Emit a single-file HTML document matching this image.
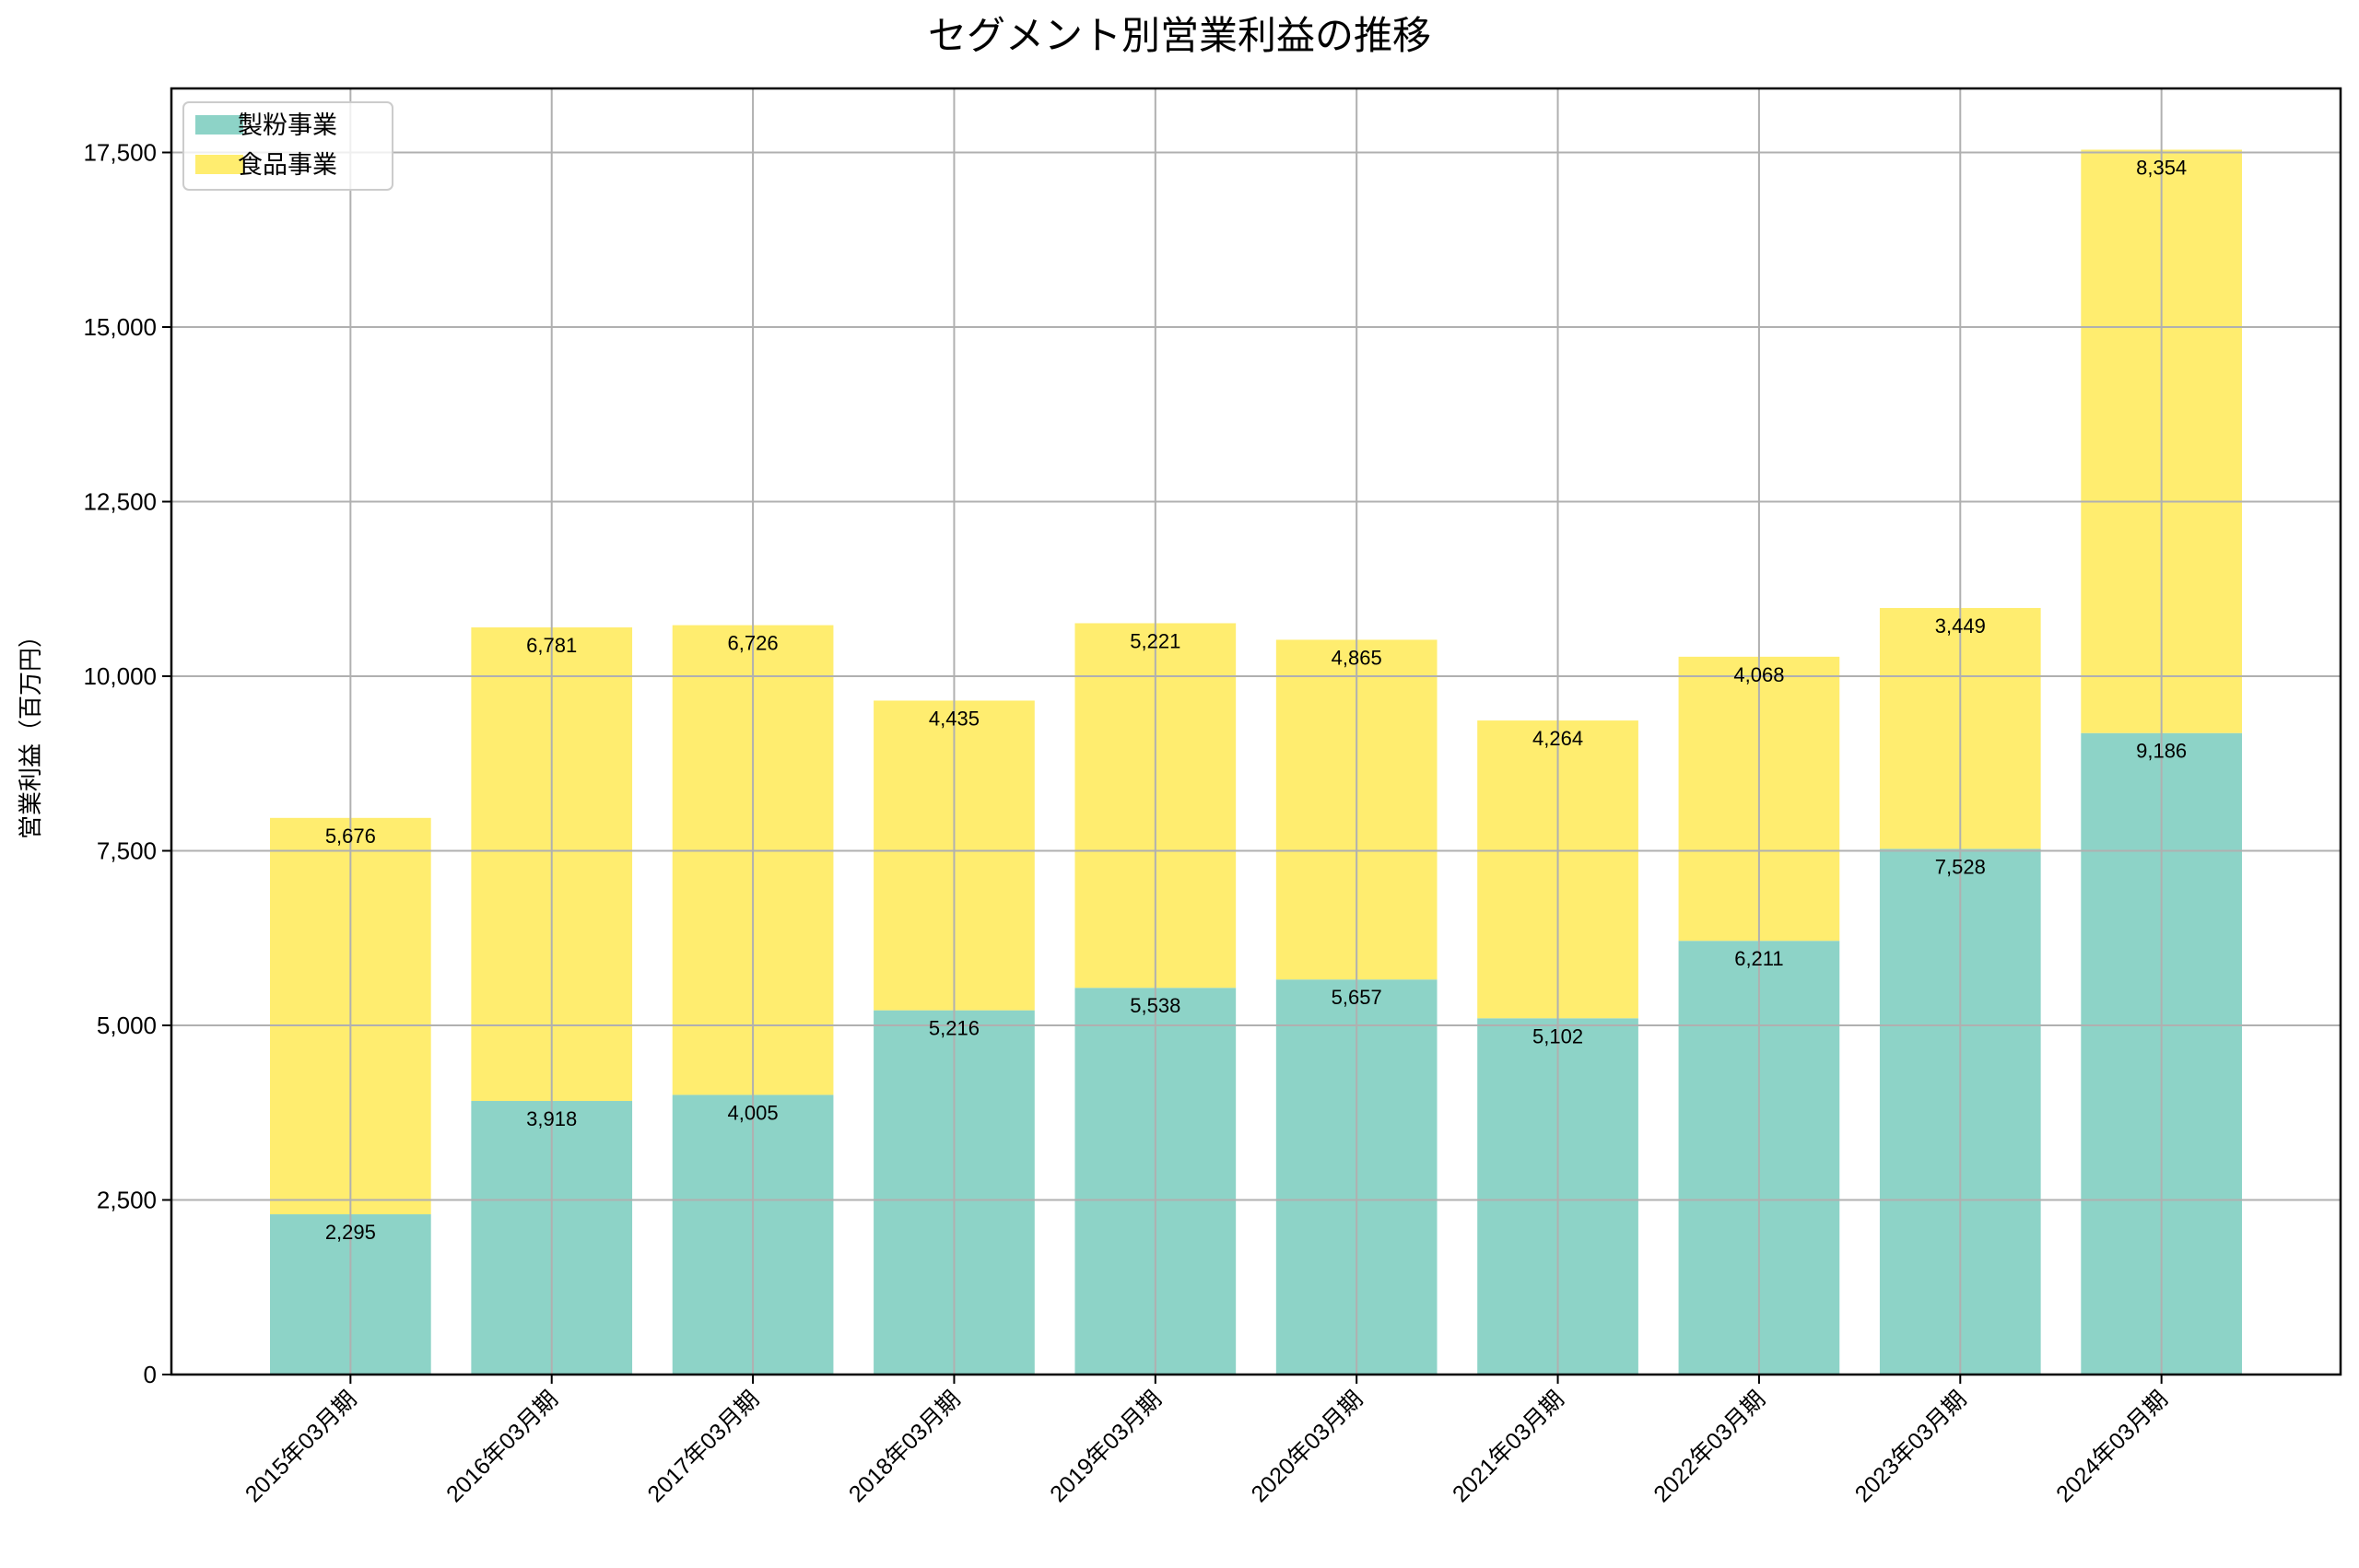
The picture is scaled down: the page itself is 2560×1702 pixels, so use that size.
<!DOCTYPE html>
<html><head><meta charset="utf-8"><style>
html,body{margin:0;padding:0;background:#fff}
svg text{font-family:"Liberation Sans","Noto Sans CJK JP",sans-serif;fill:#000}
</style></head><body>
<svg id="chart" width="2560" height="1697" viewBox="0 0 2560 1697" xmlns="http://www.w3.org/2000/svg">
<rect width="2560" height="1697" fill="#fff"/>
<text x="1280" y="53" font-size="42" text-anchor="middle">セグメント別営業利益の推移</text>
<g id="bars"></g>
<g id="grid"></g>
<g id="labels"></g>
<g id="axes"></g>
<text transform="translate(42,794) rotate(-90)" font-size="26" text-anchor="middle">営業利益（百万円）</text>
<g>
<rect x="199" y="111" width="227" height="95" rx="6" fill="#fff" fill-opacity="0.8" stroke="#ccc" stroke-width="2"/>
<rect x="212" y="125" width="52" height="21" fill="#8dd3c7"/>
<text x="258" y="145" font-size="27">製粉事業</text>
<rect x="212" y="168" width="52" height="21" fill="#ffed6f"/>
<text x="258" y="188" font-size="27">食品事業</text>
</g>
</svg>
<script>
const categories = ["2015年03月期","2016年03月期","2017年03月期","2018年03月期","2019年03月期","2020年03月期","2021年03月期","2022年03月期","2023年03月期","2024年03月期"];
const flourValues = [2295,3918,4005,5216,5538,5657,5102,6211,7528,9186];
const foodValues = [5676,6781,6726,4435,5221,4865,4264,4068,3449,8354];
const yTicks = [0,2500,5000,7500,10000,12500,15000,17500];

const NS = "http://www.w3.org/2000/svg";
const L = 186, R = 2540, T = 96, B = 1492;
const n = categories.length;
const xMin = -0.4 - 0.05*(n-1+0.8), xMax = n-1+0.4 + 0.05*(n-1+0.8);
let maxTot = 0; for (let i=0;i<n;i++) maxTot = Math.max(maxTot, flourValues[i]+foodValues[i]);
const yMax = maxTot*1.05;
const xs = v => L + (v - xMin)/(xMax - xMin)*(R-L);
const ys = v => B - v/yMax*(B-T);
const fmt = v => v.toLocaleString("en-US");
function mk(tag, attrs, parent){const e=document.createElementNS(NS,tag);for(const k in attrs)e.setAttribute(k,attrs[k]);parent.appendChild(e);return e;}
const gB=document.getElementById("bars"), gG=document.getElementById("grid"), gL=document.getElementById("labels"), gA=document.getElementById("axes");
const bw = (xs(0.8)-xs(0));
for (let i=0;i<n;i++){
  const cx = xs(i);
  const f = flourValues[i], d = foodValues[i];
  const r1 = mk("rect",{x:cx-bw/2,y:ys(f),width:bw,height:ys(0)-ys(f),fill:"#8dd3c7"},gB);
  
  
  const r2 = mk("rect",{x:cx-bw/2,y:ys(f+d),width:bw,height:ys(f)-ys(f+d),fill:"#ffed6f"},gB);
  
  
  const t1 = mk("text",{x:cx,y:ys(f)+27,"font-size":22,"text-anchor":"middle"},gL); t1.textContent=fmt(f);
  
  
  const t2 = mk("text",{x:cx,y:ys(f+d)+27,"font-size":22,"text-anchor":"middle"},gL); t2.textContent=fmt(d);
  
  
  const gl = mk("line",{x1:cx,x2:cx,y1:T,y2:B,stroke:"#b0b0b0","stroke-width":2},gG);
  
  
  const tk = mk("line",{x1:cx,x2:cx,y1:B,y2:B+10,stroke:"#000","stroke-width":2},gA);
  
  
  const tl = mk("text",{transform:`translate(${cx+8},${B+28}) rotate(-45)`,"font-size":25,"text-anchor":"end"},gA); tl.textContent=categories[i];
  
  
}
yTicks.forEach((v,j)=>{
  const y = ys(v);
  const gl = mk("line",{x1:L,x2:R,y1:y,y2:y,stroke:"#b0b0b0","stroke-width":2},gG);
  
  
  const tk = mk("line",{x1:L-10,x2:L,y1:y,y2:y,stroke:"#000","stroke-width":2},gA);
  
  
  const tl = mk("text",{x:L-16,y:y+9,"font-size":26,"text-anchor":"end"},gA); tl.textContent=fmt(v);
  
  
});
const fr = mk("rect",{x:L,y:T,width:R-L,height:B-T,fill:"none",stroke:"#000","stroke-width":2.5},gA);


</script>
</body></html>
